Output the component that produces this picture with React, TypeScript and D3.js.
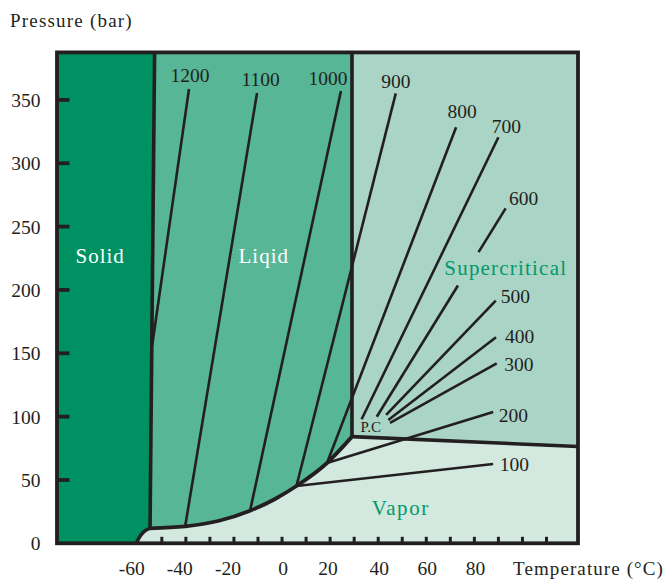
import React from "react";
import * as d3 from "d3";

// ---------- data (temperature °C, pressure bar) ----------
const pressureTicks = [0, 50, 100, 150, 200, 250, 300, 350];
const pressureMinorTicks = [50, 100, 150, 200, 250, 300, 350];
const temperatureLabels = [-60, -40, -20, 0, 20, 40, 60, 80];
const temperatureTicks = [-50, -40, -30, -20, -10, 0, 10, 20, 30, 40, 50, 60, 70, 80, 90, 100, 110];

const meltingCurve: [number, number][] = [[-53.0, 387.5], [-54.9, 11.8]];
const sublimationCurve: [number, number][] = [[-60.6, 0], [-59.5, 4.2], [-57.8, 8.5], [-56.1, 10.9], [-54.9, 11.8]];
const vaporizationCurve: [number, number][] = [
  [-54.9, 11.8], [-40.3, 13.3], [-26.6, 17.6], [-13.3, 25.7], [-2.9, 35.0], [6.0, 45.2], [18.7, 63.4], [29.1, 84.2],
];
const criticalIsotherm: [number, number][] = [[29.1, 84.2], [29.1, 387.5]];
const supercriticalVaporBoundary: [number, number][] = [[29.1, 84.2], [123.1, 76.4]];

const densityNames = ["1200", "1100", "1000", "900", "800", "700", "600", "500", "400", "300", "200", "100"];
const densityStart: [number, number][] = [
  [-38.7, 358.6], [-10.4, 355.5], [24.5, 357.1], [47.3, 355.2], [72.4, 328.4], [90.0, 320.5],
  [93.0, 264.4], [88.9, 191.5], [89.0, 162.6], [89.3, 142.1], [87.8, 103.6], [87.8, 62.6],
];
const densityEnd: [number, number][] = [
  [-54.0, 156.5], [-40.3, 13.3], [-13.3, 25.7], [6.0, 45.2], [18.7, 63.4], [33.1, 97.9],
  [39.4, 99.9], [43.3, 101.3], [44.2, 97.3], [44.9, 95.0], [18.7, 63.4], [6.0, 45.2],
];

const phaseNames = ["Solid", "Liqid", "Supercritical", "Vapor"];

// ---------- layout ----------
const W = 668;
const H = 581;
const plot = { left: 57, right: 578, top: 52.4, bottom: 543.3 };
const tDomain: [number, number] = [-93.6, 123.1];
const pDomain: [number, number] = [0, 387.5];

const colors = {
  solid: "#009163",
  liquid: "#56b696",
  supercritical: "#aad4c5",
  vapor: "#d3e8df",
  ink: "#231f20",
  green: "#019a69",
};

// label placement relative to the top end of each density line: [dx, dy, anchor]
const densityLabelLayout: [number, number, string][] = [
  [1, -7.5, "middle"], [3.5, -6.5, "middle"], [-13, -6, "middle"], [0, -5, "middle"],
  [6, -9, "middle"], [8, -4, "middle"], [18, -3, "middle"], [5, 2, "start"],
  [9, 5.5, "start"], [7.5, 7.5, "start"], [5.5, 9.5, "start"], [6.5, 7.5, "start"],
];
// gap in the 600 line for the "Supercritical" text (fractions along the line)
const gap600: [number, number] = [0.21, 0.37];

const phaseLabelLayout: { x: number; y: number; fill: string; ls: number }[] = [
  { x: 75.5, y: 263.3, fill: "#ffffff", ls: 1 },
  { x: 238.5, y: 263.3, fill: "#ffffff", ls: 1 },
  { x: 444.3, y: 275, fill: colors.green, ls: 1.2 },
  { x: 371.7, y: 515, fill: colors.green, ls: 1.6 },
];

const font = "'Liberation Serif', 'Times New Roman', serif";

export default function App() {
  const x = d3.scaleLinear().domain(tDomain).range([plot.left, plot.right]);
  const y = d3.scaleLinear().domain(pDomain).range([plot.bottom, plot.top]);

  const smooth = d3
    .line<[number, number]>()
    .x((d) => x(d[0]))
    .y((d) => y(d[1]))
    .curve(d3.curveMonotoneX);
  const straight = d3
    .line<[number, number]>()
    .x((d) => x(d[0]))
    .y((d) => y(d[1]));

  const pt = (d: [number, number]) => `L${x(d[0])},${y(d[1])}`;

  const solidPath =
    smooth(sublimationCurve)! +
    pt(meltingCurve[0]) +
    pt([tDomain[0], pDomain[1]]) +
    pt([tDomain[0], 0]) +
    "Z";
  const liquidPath =
    smooth(vaporizationCurve)! +
    pt(criticalIsotherm[1]) +
    pt(meltingCurve[0]) +
    "Z";
  const superPath =
    straight([
      criticalIsotherm[0],
      criticalIsotherm[1],
      [tDomain[1], pDomain[1]],
      supercriticalVaporBoundary[1],
    ])! + "Z";

  const lerp = (a: [number, number], b: [number, number], f: number): [number, number] => [
    a[0] + (b[0] - a[0]) * f,
    a[1] + (b[1] - a[1]) * f,
  ];

  return (
    <svg
      width={W}
      height={H}
      style={{ position: "absolute", left: 0, top: 0, background: "#ffffff" }}
      fontFamily={font}
    >
      {/* regions */}
      <rect
        x={plot.left}
        y={plot.top}
        width={plot.right - plot.left}
        height={plot.bottom - plot.top}
        fill={colors.vapor}
      />
      <path d={superPath} fill={colors.supercritical} />
      <path d={liquidPath} fill={colors.liquid} />
      <path d={solidPath} fill={colors.solid} />

      {/* density lines */}
      {densityNames.map((name, i) => {
        const a = densityStart[i];
        const b = densityEnd[i];
        const segs: [number, number][][] =
          name === "600"
            ? [
                [a, lerp(a, b, gap600[0])],
                [lerp(a, b, gap600[1]), b],
              ]
            : [[a, b]];
        return segs.map((s, j) => (
          <path
            key={name + j}
            d={straight(s)!}
            stroke={colors.ink}
            strokeWidth={2.6}
            fill="none"
          />
        ));
      })}

      {/* phase boundaries */}
      <path d={straight(meltingCurve)!} stroke={colors.ink} strokeWidth={3.6} fill="none" />
      <path d={smooth(sublimationCurve)!} stroke={colors.ink} strokeWidth={3.6} fill="none" />
      <path d={smooth(vaporizationCurve)!} stroke={colors.ink} strokeWidth={3.8} fill="none" />
      <path d={straight(criticalIsotherm)!} stroke={colors.ink} strokeWidth={3.6} fill="none" />
      <path
        d={straight(supercriticalVaporBoundary)!}
        stroke={colors.ink}
        strokeWidth={3.6}
        fill="none"
      />

      {/* frame */}
      <rect
        x={plot.left}
        y={plot.top}
        width={plot.right - plot.left}
        height={plot.bottom - plot.top}
        fill="none"
        stroke={colors.ink}
        strokeWidth={3.8}
      />

      {/* ticks */}
      {pressureMinorTicks.map((p) => (
        <line
          key={"pt" + p}
          x1={plot.left}
          x2={plot.left + 12.5}
          y1={y(p)}
          y2={y(p)}
          stroke={colors.ink}
          strokeWidth={3.8}
        />
      ))}
      {temperatureTicks.map((t) => (
        <line
          key={"tt" + t}
          x1={x(t)}
          x2={x(t)}
          y1={plot.bottom}
          y2={plot.bottom - 6.5}
          stroke={colors.ink}
          strokeWidth={3}
        />
      ))}

      {/* tick labels */}
      {pressureTicks.map((p) => (
        <text
          key={"pl" + p}
          x={40.5}
          y={y(p) + 7}
          textAnchor="end"
          fontSize={19.5}
          fill={colors.ink}
        >
          {p}
        </text>
      ))}
      {temperatureLabels.map((t) => (
        <text
          key={"tl" + t}
          x={x(t) + (t < 0 ? -6 : t === 20 ? -2 : 1)}
          y={575}
          textAnchor="middle"
          fontSize={19.5}
          fill={colors.ink}
        >
          {t}
        </text>
      ))}

      {/* axis titles */}
      <text x={10} y={27} fontSize={19} letterSpacing={1.2} fill={colors.ink}>
        Pressure (bar)
      </text>
      <text x={513} y={575} fontSize={19} letterSpacing={1.1} fill={colors.ink}>
        Temperature (°C)
      </text>

      {/* density labels */}
      {densityNames.map((name, i) => {
        const [dx, dy, anchor] = densityLabelLayout[i];
        return (
          <text
            key={"dl" + name}
            x={x(densityStart[i][0]) + dx}
            y={y(densityStart[i][1]) + dy}
            textAnchor={anchor as any}
            fontSize={19.5}
            fill={colors.ink}
          >
            {name}
          </text>
        );
      })}

      {/* critical point label */}
      <text
        x={x(criticalIsotherm[0][0]) + 8.5}
        y={y(criticalIsotherm[0][1]) - 4.5}
        fontSize={15}
        fill={colors.ink}
      >
        P.C
      </text>

      {/* phase labels */}
      {phaseNames.map((name, i) => (
        <text
          key={"ph" + name}
          x={phaseLabelLayout[i].x}
          y={phaseLabelLayout[i].y}
          fontSize={21}
          letterSpacing={phaseLabelLayout[i].ls}
          fill={phaseLabelLayout[i].fill}
        >
          {name}
        </text>
      ))}
    </svg>
  );
}
